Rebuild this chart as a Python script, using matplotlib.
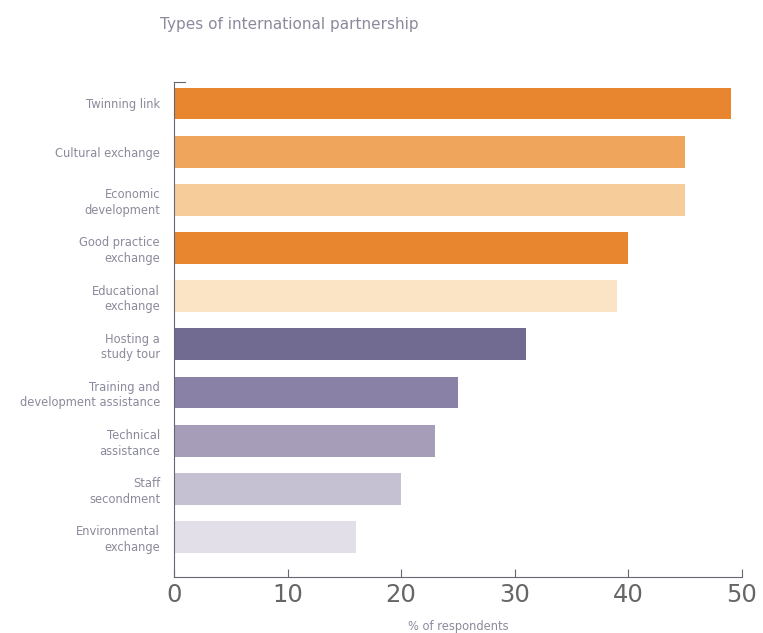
import numpy as np
import matplotlib.pyplot as plt

plt.rcParams["font.family"] = ["DejaVu Sans"]

categories = ["Twinning link", "Cultural exchange", "Economic\ndevelopment",
              "Good practice\nexchange", "Educational\nexchange", "Hosting a\nstudy tour",
              "Training and\ndevelopment assistance", "Technical\nassistance",
              "Staff\nsecondment", "Environmental\nexchange"]
values = [49, 45, 45, 40, 39, 31, 25, 23, 20, 16]
colors = ["#E8852F", "#EFA55B", "#F6CD9A", "#E8852F", "#FBE4C6",
          "#716A91", "#8A81A7", "#A69EB9", "#C6C0D3", "#E3DFE8"]
xticks = [0, 10, 20, 30, 40, 50]

fig = plt.figure(figsize=(7.63, 6.33), dpi=100)
ax = fig.add_axes([0.228, 0.0885, 0.7445, 0.7815])

y = np.arange(len(categories))
ax.barh(y, values, height=0.66, color=colors)

ax.set_xlim(0, 50)
ax.set_ylim(9.83, -0.44)
ax.set_yticks(y)
ax.set_yticklabels(categories, fontsize=8.3, color="#8a8a9c", linespacing=1.25)
ax.tick_params(axis="y", length=0, pad=10)
for lbl in ax.get_yticklabels():
    lbl.set_horizontalalignment("right")

ax.set_xticks(xticks)
ax.set_xticklabels([str(t) for t in xticks], fontsize=17.5, color="#666666")
ax.tick_params(axis="x", direction="in", length=6, color="#666677", width=0.8, pad=4)

for side in ["top", "right"]:
    ax.spines[side].set_visible(False)
for side in ["left", "bottom"]:
    ax.spines[side].set_color("#666677")
    ax.spines[side].set_linewidth(0.8)

# small cap at the top of the left axis
ax.plot([0, 1.0], [-0.44, -0.44], color="#666677", lw=0.8, clip_on=False)

ax.set_xlabel("% of respondents", fontsize=8.3, color="#8a8a9c", labelpad=10)
fig.text(0.21, 0.962, "Types of international partnership", fontsize=11,
         color="#8a8a9c", ha="left", va="center")

fig.savefig("out.png", dpi=100)
